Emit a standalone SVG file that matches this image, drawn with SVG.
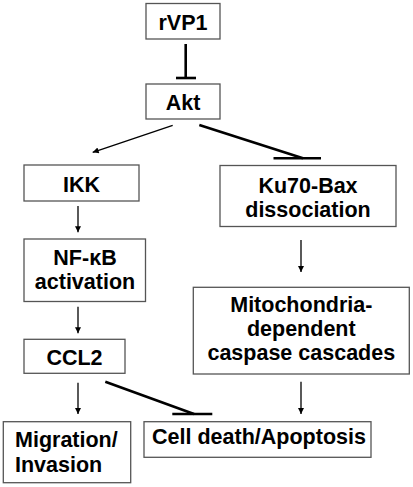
<svg xmlns="http://www.w3.org/2000/svg" width="413" height="487" viewBox="0 0 413 487">
<style>
.box{fill:#fff;stroke:#555;stroke-width:1.3}
.t{font-family:"Liberation Sans",Arial,sans-serif;font-weight:bold;font-size:21.5px;fill:#000;text-anchor:middle}
.tl{text-anchor:start}
.act{stroke:#000;stroke-width:1.3;fill:none;marker-end:url(#ah)}
.inh{stroke:#000;stroke-width:2.6;fill:none}
.bar{stroke:#000;stroke-width:2.6}
</style>
<defs>
<marker id="ah" viewBox="0 0 10 10" refX="10" refY="5" markerWidth="7" markerHeight="6" markerUnits="userSpaceOnUse" orient="auto">
<path d="M0,0 L10,5 L0,10 z" fill="#000"/>
</marker>
</defs>
<g id="connectors">
<line class="inh" x1="185.7" y1="44" x2="185.7" y2="78"/>
<line class="bar" x1="176" y1="78" x2="196" y2="78"/>
<line class="act" x1="172.7" y1="125.3" x2="92.7" y2="152.3"/>
<line class="inh" x1="199.3" y1="125" x2="303" y2="158.3"/>
<line class="bar" x1="273.5" y1="158.3" x2="321" y2="158.3"/>
<line class="act" x1="78" y1="206" x2="78" y2="232.3"/>
<line class="act" x1="301" y1="240" x2="301" y2="272"/>
<line class="act" x1="78" y1="306.7" x2="78" y2="333.3"/>
<line class="act" x1="78" y1="382.7" x2="78" y2="414"/>
<line class="inh" x1="105.3" y1="381.7" x2="194" y2="414"/>
<line class="bar" x1="172.3" y1="414" x2="212.3" y2="414"/>
<line class="act" x1="301" y1="381.7" x2="301" y2="414"/>
</g>
<g id="rVP1"><rect class="box" x="146" y="3.5" width="74" height="35.5"/><text class="t" x="183" y="29.5">rVP1</text></g>
<g id="Akt"><rect class="box" x="146" y="84" width="74" height="35"/><text class="t" x="183" y="110">Akt</text></g>
<g id="IKK"><rect class="box" x="24" y="165" width="115" height="36"/><text class="t" x="81.5" y="191.5">IKK</text></g>
<g id="Ku70Bax"><rect class="box" x="220" y="165.5" width="176" height="61"/><text class="t" x="308" y="192.5">Ku70-Bax</text><text class="t" x="308" y="216.5">dissociation</text></g>
<g id="NFkB"><rect class="box" x="24" y="239" width="121.5" height="62.5"/><text class="t" x="85" y="265">NF-κB</text><text class="t" x="85" y="289.3">activation</text></g>
<g id="Mito"><rect class="box" x="193.3" y="287.3" width="216" height="86.7"/><text class="t" x="301.3" y="311.7">Mitochondria-</text><text class="t" x="301.3" y="336">dependent</text><text class="t" x="301.3" y="360">caspase cascades</text></g>
<g id="CCL2"><rect class="box" x="24" y="339.3" width="101" height="34"/><text class="t" x="74.5" y="365">CCL2</text></g>
<g id="Migration"><rect class="box" x="3.3" y="421.7" width="127.4" height="61"/><text class="t tl" x="15" y="446.7">Migration/</text><text class="t tl" x="15" y="471.7">Invasion</text></g>
<g id="CellDeath"><rect class="box" x="144" y="421.7" width="227" height="35.6"/><text class="t" x="259" y="444.3">Cell death/Apoptosis</text></g>
</svg>
